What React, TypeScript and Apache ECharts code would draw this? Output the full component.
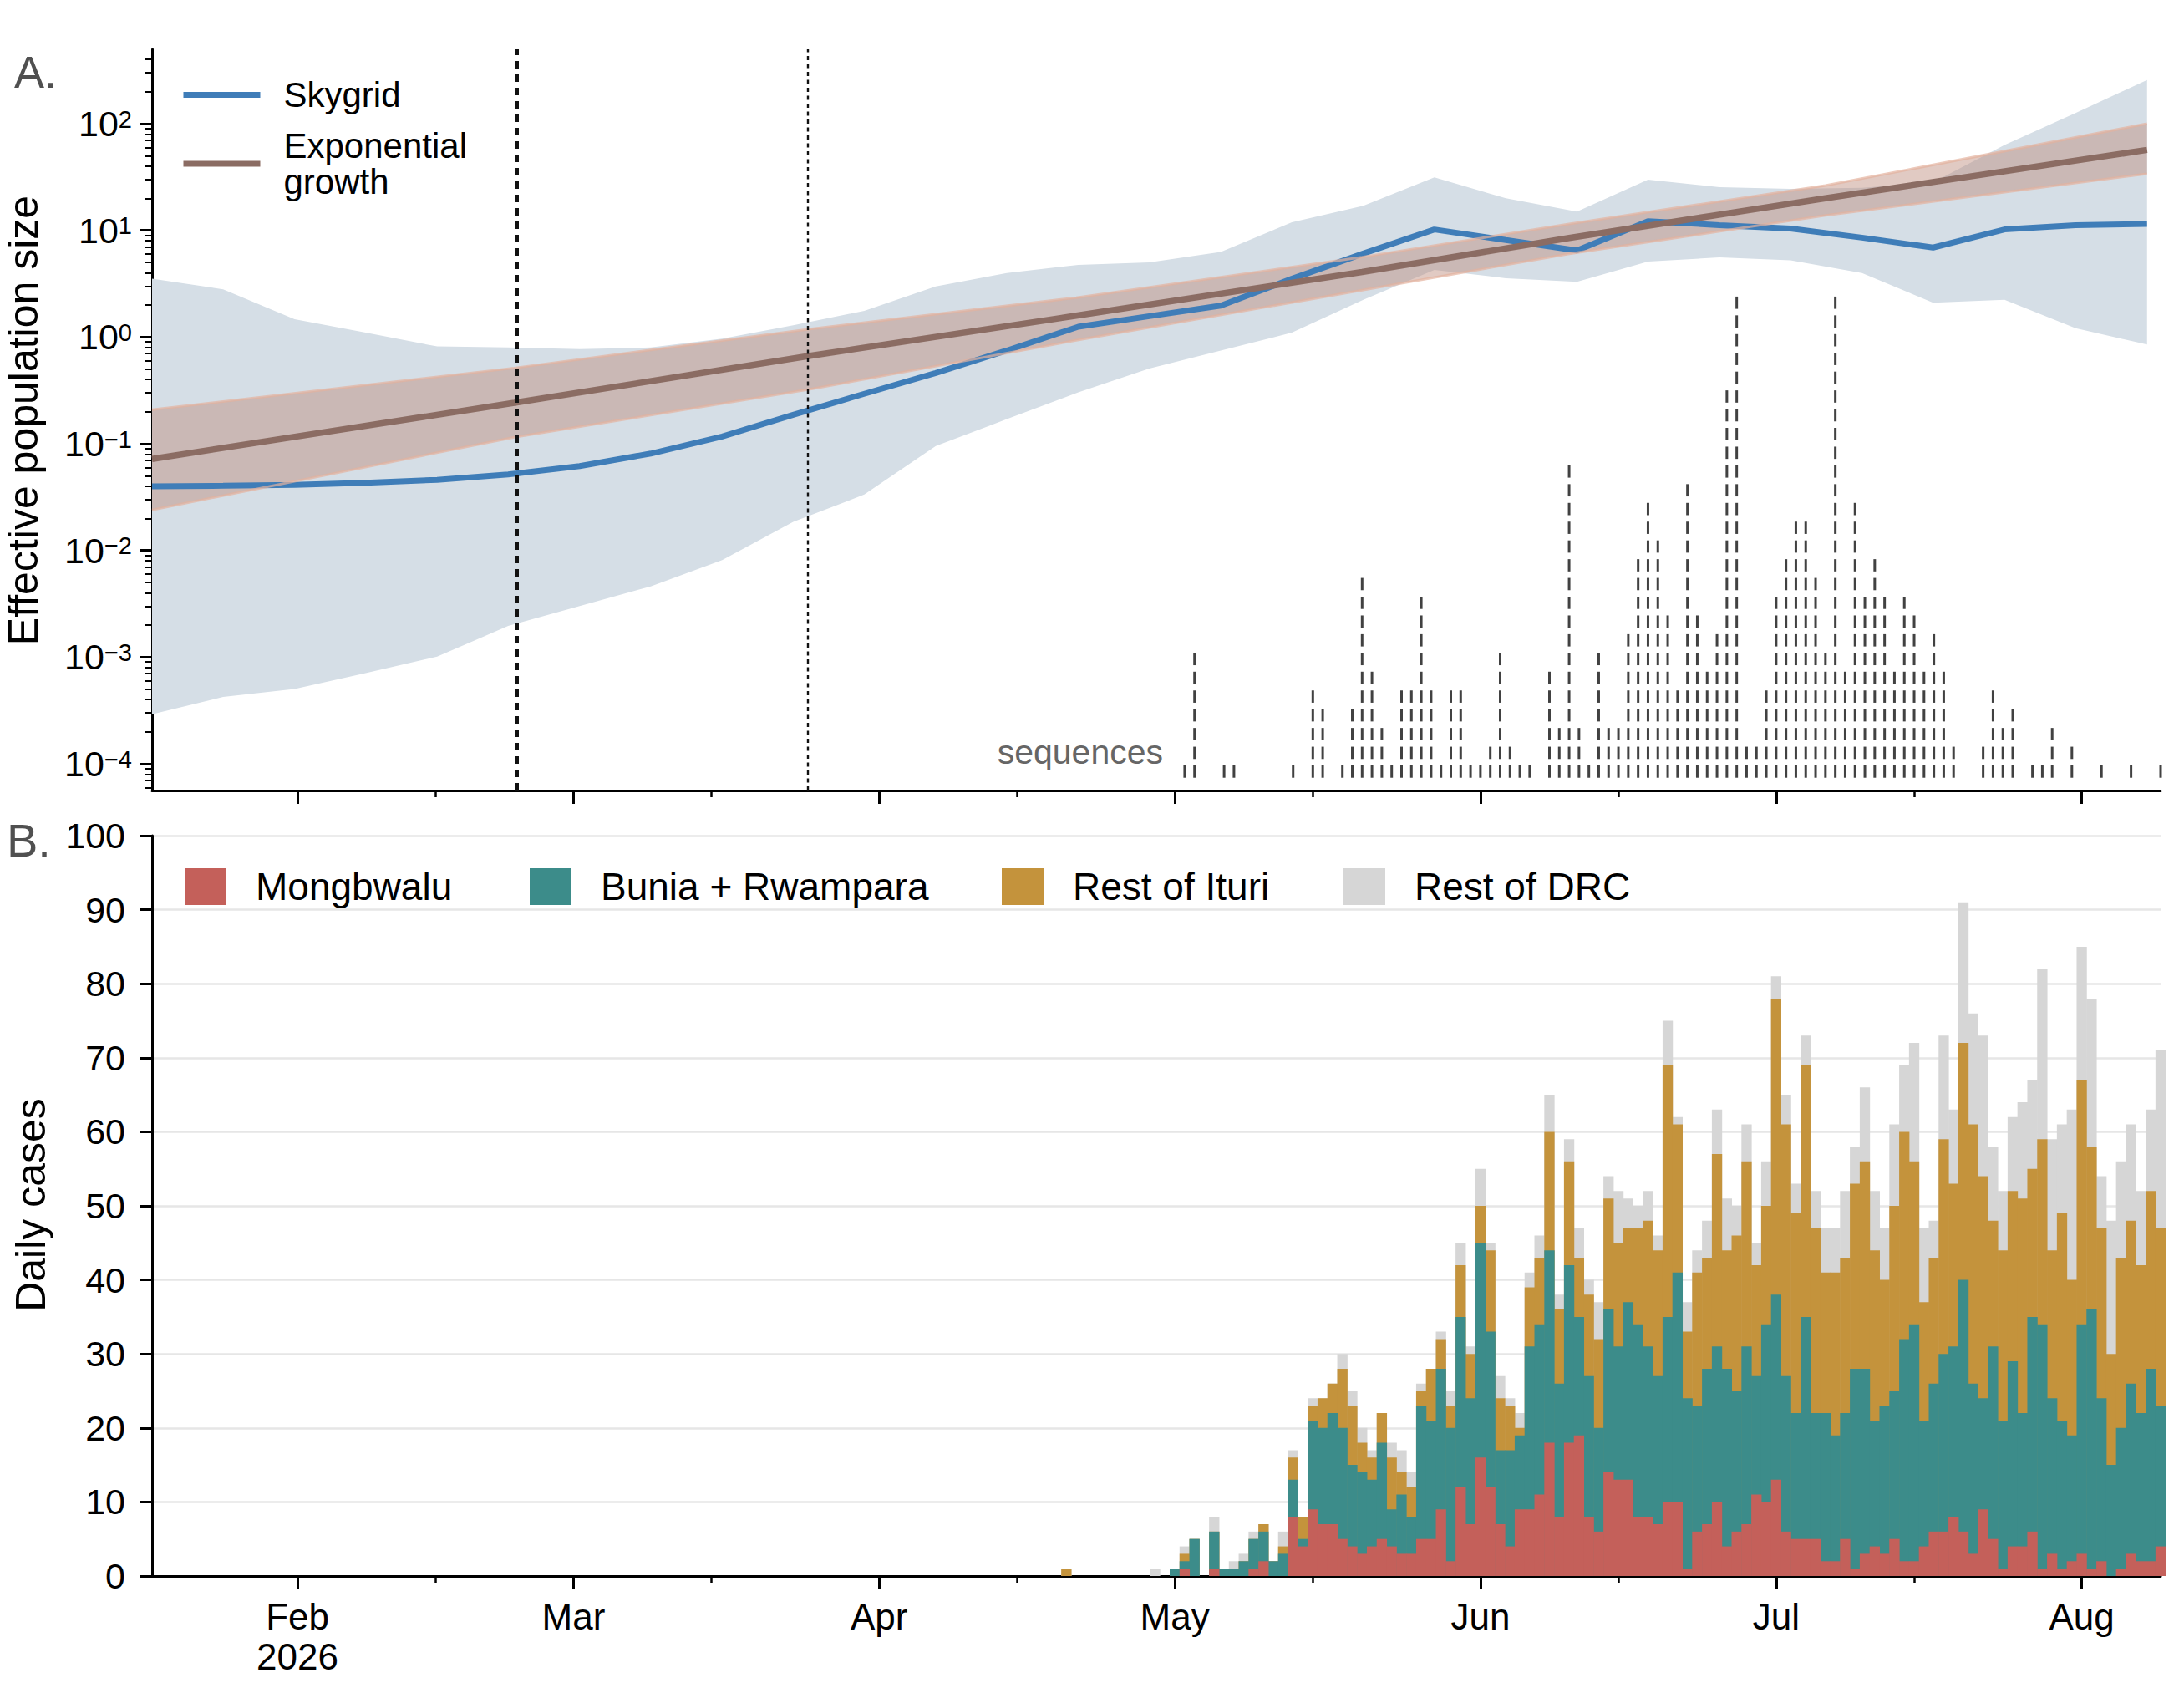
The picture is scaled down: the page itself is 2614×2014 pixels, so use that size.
import React, { useEffect, useRef } from 'react';
import * as echarts from 'echarts';

const FONT = '"Liberation Sans", Arial, Helvetica, sans-serif';

// ---------------- Panel A: effective population size ----------------
const skygridDates = [
  '2026-01-17 06:00', '2026-01-24 11:00', '2026-01-31 17:00', '2026-02-07 22:00', '2026-02-15 04:00',
  '2026-02-22 09:00', '2026-03-01 15:00', '2026-03-08 20:00', '2026-03-16 02:00', '2026-03-23 07:00',
  '2026-03-30 12:00', '2026-04-06 18:00', '2026-04-13 23:00', '2026-04-21 05:00', '2026-04-28 10:00',
  '2026-05-05 16:00', '2026-05-12 21:00', '2026-05-20 03:00', '2026-05-27 08:00', '2026-06-03 14:00',
  '2026-06-10 19:00', '2026-06-18 00:00', '2026-06-25 06:00', '2026-07-02 11:00', '2026-07-09 17:00',
  '2026-07-16 22:00', '2026-07-24 04:00', '2026-07-31 09:00', '2026-08-07 15:00',
];
const skygridMedian = [
  0.0398, 0.0404, 0.0411, 0.0431, 0.0459, 0.0515, 0.0618, 0.0809, 0.117, 0.187,
  0.294, 0.461, 0.748, 1.25, 1.57, 1.97, 3.52, 6.07, 10.2, 8.11,
  6.47, 12.2, 11.2, 10.4, 8.55, 6.9, 10.2, 11.2, 11.5,
];
const skygridLower = [
  0.000291, 0.000424, 0.000502, 0.000708, 0.00101, 0.00196, 0.00301, 0.00461, 0.00813, 0.0185,
  0.0334, 0.0951, 0.17, 0.303, 0.508, 0.748, 1.1, 2.24, 4.26, 3.56,
  3.3, 5.11, 5.58, 5.24, 3.99, 2.1, 2.24, 1.21, 0.851,
];
const skygridUpper = [
  3.52, 2.8, 1.47, 1.1, 0.817, 0.798, 0.773, 0.798, 0.968, 1.29,
  1.76, 2.99, 3.99, 4.75, 5.0, 6.27, 11.9, 17.0, 31.4, 20.0,
  15.0, 29.9, 25.4, 24.5, 25.1, 28.2, 63.1, 126, 257,
];

const expDates = [
  '2026-01-17 06:00', '2026-02-23 00:00', '2026-03-25 00:00', '2026-04-21 00:00',
  '2026-05-20 00:00', '2026-06-10 00:00', '2026-07-06 00:00', '2026-08-07 15:00',
];
const expMedian = [0.0721, 0.242, 0.668, 1.585, 4.07, 8.5, 20.0, 56.8];
const expLower = [0.024, 0.115, 0.324, 0.933, 2.75, 6.03, 13.8, 33.9];
const expUpper = [0.209, 0.513, 1.19, 2.34, 5.62, 11.5, 26.3, 100];

const markerDates = ['2026-02-23 05:00', '2026-03-24 18:00'];

// sequences per day, starting 2026-05-02
const seqStart = '2026-05-02';
const seqCounts = [
  // May 2 - May 31
  1, 7, 0, 0, 1, 1, 0, 0, 0, 0, 0, 1, 0, 5, 4, 0, 1, 4, 11, 6, 3, 1, 5, 5, 10, 5, 1, 5, 5, 1,
  // June
  1, 2, 7, 2, 1, 1, 0, 6, 3, 17, 3, 1, 7, 3, 3, 8, 12, 15, 13, 9, 5, 16, 9, 6, 8, 21, 26, 2, 2, 5,
  // July
  10, 12, 14, 14, 11, 7, 26, 6, 15, 10, 12, 10, 6, 10, 9, 6, 8, 6, 2, 0, 0, 2, 5, 3, 4, 0, 1, 1, 3, 0, 2,
  // Aug 1 - 9
  0, 0, 1, 0, 0, 1, 0, 0, 1,
];

// ---------------- Panel B: daily cases, starting 2026-04-20 ----------------
const caseStart = '2026-04-20';
const mongbwalu = [
  0, 0, 0, 0, 0, 0, 0, 0, 0, 0, 0,
  0, 1, 0, 0, 1, 0, 0, 0, 1, 2, 0, 0, 8, 4, 9, 7, 7, 5, 4, 3, 4, 5, 4, 3, 3, 5, 5, 9, 2, 12, 7,
  16, 12, 7, 4, 9, 9, 11, 18, 8, 18, 19, 8, 6, 14, 13, 13, 8, 8, 7, 10, 10, 1, 6, 7, 10, 4, 6, 7, 11, 10,
  13, 6, 5, 5, 5, 2, 2, 5, 1, 3, 4, 3, 5, 2, 2, 4, 6, 6, 8, 6, 3, 9, 5, 1, 4, 4, 6, 1, 3, 1, 2,
  3, 1, 2, 0, 1, 3, 2, 2, 4,
];
const buniaRwampara = [
  0, 0, 0, 0, 0, 0, 0, 0, 0, 0, 0,
  1, 1, 5, 0, 5, 1, 1, 2, 4, 4, 2, 3, 5, 1, 12, 13, 15, 15, 11, 11, 9, 13, 5, 8, 5, 18, 16, 19, 18, 23, 17,
  29, 21, 10, 13, 10, 22, 23, 26, 18, 24, 16, 19, 14, 22, 18, 24, 26, 23, 20, 25, 31, 23, 17, 21, 21, 24, 19, 24, 16, 24,
  25, 21, 17, 30, 17, 20, 17, 17, 27, 25, 17, 20, 20, 30, 32, 17, 20, 24, 23, 34, 23, 15, 26, 20, 25, 18, 29, 33, 21, 20, 17,
  31, 35, 22, 15, 19, 23, 20, 26, 19,
];
const restOfIturi = [
  1, 0, 0, 0, 0, 0, 0, 0, 0, 0, 0,
  0, 1, 0, 0, 0, 0, 0, 0, 0, 1, 0, 1, 3, 3, 2, 4, 4, 8, 8, 4, 3, 4, 7, 3, 4, 2, 7, 4, 3, 7, 6,
  5, 11, 7, 6, 1, 8, 9, 16, 10, 14, 8, 11, 12, 15, 14, 10, 13, 17, 17, 34, 20, 9, 18, 15, 26, 16, 21, 25, 15, 16,
  40, 34, 27, 34, 25, 19, 22, 21, 25, 28, 23, 17, 25, 28, 22, 16, 17, 29, 22, 32, 35, 30, 17, 23, 23, 29, 20, 25, 20, 28, 21,
  33, 22, 23, 15, 23, 22, 20, 24, 24,
];
const restOfDRC = [
  0, 0, 0, 0, 0, 0, 0, 0, 0, 1, 0,
  0, 1, 0, 0, 2, 0, 1, 1, 1, 0, 0, 2, 1, 0, 1, 0, 0, 2, 2, 2, 1, 0, 2, 3, 2, 1, 0, 1, 2, 3, 1,
  5, 1, 3, 1, 2, 2, 3, 5, 2, 3, 4, 2, 5, 3, 7, 4, 3, 4, 2, 6, 1, 4, 3, 5, 6, 7, 4, 5, 3, 6,
  3, 4, 4, 4, 5, 6, 6, 9, 5, 10, 8, 7, 11, 9, 16, 10, 5, 14, 10, 19, 15, 19, 10, 8, 10, 13, 12, 23, 15, 12, 23,
  18, 20, 7, 18, 13, 13, 10, 11, 24,
];

// ---------------- Axis ticks ----------------
const monthTicks = ['2026-02-01', '2026-03-01', '2026-04-01', '2026-05-01', '2026-06-01', '2026-07-01', '2026-08-01'];
const midMonthTicks = ['2026-02-15', '2026-03-15', '2026-04-15', '2026-05-15', '2026-06-15', '2026-07-15'];
const decadeTicks = [-4, -3, -2, -1, 0, 1, 2];
const caseTicks = [0, 10, 20, 30, 40, 50, 60, 70, 80, 90, 100];
const xRange = ['2026-01-17 06:00', '2026-08-09 00:00'];
const neRange = [0.0000562, 498];

// ---------------- Styles / layout constants ----------------
const BLUE = '#3f7db8';
const BROWN = '#8b6c63';
const SKY_BAND = '#d5dee6';
const EXP_BAND = 'rgba(188,138,122,0.45)';
const EXP_EDGE = 'rgba(228,178,158,0.7)';
const C_MONG = '#c4605a';
const C_BUNIA = '#3c8c8a';
const C_ITURI = '#c4933c';
const C_DRC = '#d6d6d6';
const SEQ_BASE = -4.073; // log10 position of first dash
const SEQ_STEP = 0.1758; // log10 spacing of stacked dashes
const MONTHS = ['Jan', 'Feb', 'Mar', 'Apr', 'May', 'Jun', 'Jul', 'Aug', 'Sep', 'Oct', 'Nov', 'Dec'];

function ts(s: string): number {
  const [d, t] = s.split(' ');
  const [y, m, dd] = d.split('-').map(Number);
  let h = 0;
  let mi = 0;
  if (t) {
    const p = t.split(':').map(Number);
    h = p[0];
    mi = p[1];
  }
  return new Date(y, m - 1, dd, h, mi).getTime();
}
function addDays(s: string, n: number): number {
  const [y, m, dd] = s.split('-').map(Number);
  return new Date(y, m - 1, dd + n).getTime();
}
const L = Math.log10;

function buildOption() {
  const xMin = ts(xRange[0]);
  const xMax = ts(xRange[1]);
  const yMin = L(neRange[0]);
  const yMax = L(neRange[1]);
  const monthTs = monthTicks.map(ts);
  const midTs = midMonthTicks.map(ts);
  const minorLog: number[] = [];
  for (let k = -5; k <= 2; k++) {
    for (let m = 2; m <= 9; m++) {
      const v = k + L(m);
      if (v > yMin && v < yMax) minorLog.push(v);
    }
  }

  const skyT = skygridDates.map(ts);
  const expT = expDates.map(ts);

  const seqPts: number[][] = [];
  seqCounts.forEach((c, i) => {
    const t = addDays(seqStart, i);
    for (let j = 0; j < c; j++) seqPts.push([t, SEQ_BASE + j * SEQ_STEP]);
  });

  const caseT = mongbwalu.map((_, i) => addDays(caseStart, i));
  // cumulative tops of the stacked categories (drawn back to front)
  const cum1 = mongbwalu.slice();
  const cum2 = cum1.map((v, i) => v + buniaRwampara[i]);
  const cum3 = cum2.map((v, i) => v + restOfIturi[i]);
  const cum4 = cum3.map((v, i) => v + restOfDRC[i]);

  const axisLineStyle = { color: '#000', width: 3 };

  const xAxisBase = (gridIndex: number) => ({
    gridIndex,
    type: 'value',
    min: xMin,
    max: xMax,
    position: 'bottom',
    splitLine: { show: false },
    minorTick: { show: false },
  });

  const xAxis = [
    {
      ...xAxisBase(0),
      axisLine: { show: true, onZero: false, lineStyle: axisLineStyle },
      axisTick: { show: true, customValues: monthTs, length: 16, lineStyle: { color: '#000', width: 3 } },
      axisLabel: { show: false },
    },
    {
      ...xAxisBase(0),
      axisLine: { show: false, onZero: false },
      axisTick: { show: true, customValues: midTs, length: 8, lineStyle: { color: '#000', width: 2.5 } },
      axisLabel: { show: false },
    },
    {
      ...xAxisBase(1),
      axisLine: { show: true, onZero: false, lineStyle: axisLineStyle },
      axisTick: { show: true, customValues: monthTs, length: 16, lineStyle: { color: '#000', width: 3 } },
      axisLabel: {
        show: true,
        customValues: monthTs,
        margin: 24,
        fontSize: 44,
        lineHeight: 48,
        fontFamily: FONT,
        color: '#000',
        hideOverlap: false,
        formatter: (v: number) => {
          const d = new Date(v);
          const m = MONTHS[d.getMonth()];
          return d.getMonth() === 1 ? m + '\n' + d.getFullYear() : m;
        },
      },
    },
    {
      ...xAxisBase(1),
      axisLine: { show: false, onZero: false },
      axisTick: { show: true, customValues: midTs, length: 8, lineStyle: { color: '#000', width: 2.5 } },
      axisLabel: { show: false },
    },
  ];

  const yAxis = [
    {
      gridIndex: 0,
      type: 'value',
      position: 'left',
      min: yMin,
      max: yMax,
      axisLine: { show: true, onZero: false, lineStyle: axisLineStyle },
      axisTick: { show: true, customValues: decadeTicks, length: 15, lineStyle: { color: '#000', width: 3 } },
      axisLabel: {
        show: true,
        customValues: decadeTicks,
        margin: 24,
        formatter: (v: number) => {
          const e = Math.round(v);
          const s = e < 0 ? '\u2212' + -e : String(e);
          return '{b|10}{s|' + s + '}';
        },
        rich: {
          b: { fontSize: 43, fontFamily: FONT, color: '#000', lineHeight: 40 },
          s: { fontSize: 29, fontFamily: FONT, color: '#000', lineHeight: 28, verticalAlign: 'top' },
        },
      },
      splitLine: { show: false },
    },
    {
      gridIndex: 0,
      type: 'value',
      position: 'left',
      min: yMin,
      max: yMax,
      axisLine: { show: false, onZero: false },
      axisTick: { show: true, customValues: minorLog, length: 8, lineStyle: { color: '#000', width: 2 } },
      axisLabel: { show: false },
      splitLine: { show: false },
    },
    {
      gridIndex: 1,
      type: 'value',
      position: 'left',
      min: 0,
      max: 100,
      interval: 10,
      axisLine: { show: true, onZero: false, lineStyle: axisLineStyle },
      axisTick: { show: true, length: 15, lineStyle: { color: '#000', width: 3 } },
      axisLabel: { show: true, customValues: caseTicks, margin: 32, fontSize: 43, fontFamily: FONT, color: '#000' },
      splitLine: { show: true, lineStyle: { color: '#e6e6e6', width: 2.5 } },
    },
  ];

  const topLine = (extra: any) => ({
    type: 'line',
    xAxisIndex: 0,
    yAxisIndex: 0,
    symbol: 'none',
    silent: true,
    animation: false,
    ...extra,
  });

  const band = (name: string, times: number[], lo: number[], hi: number[], fill: string) => ({
    name,
    type: 'custom',
    xAxisIndex: 0,
    yAxisIndex: 0,
    silent: true,
    data: [[times[Math.floor(times.length / 2)], L(lo[Math.floor(times.length / 2)])]],
    renderItem: (_params: any, api: any) => {
      const up = times.map((t, i) => api.coord([t, L(hi[i])]));
      const dn = times.map((t, i) => api.coord([t, L(lo[i])])).reverse();
      return { type: 'polygon', shape: { points: up.concat(dn) }, style: { fill } };
    },
  });

  const barSeries = (name: string, arr: number[], color: string) => ({
    name,
    type: 'bar',
    xAxisIndex: 2,
    yAxisIndex: 2,
    barWidth: 12.3,
    barGap: '-100%',
    silent: true,
    itemStyle: { color },
    data: caseT.map((t, i) => [t, arr[i]]),
  });

  const series: any[] = [
    band('skyBand', skyT, skygridLower, skygridUpper, SKY_BAND),
    topLine({
      name: 'Skygrid',
      lineStyle: { color: BLUE, width: 7 },
      itemStyle: { color: BLUE },
      data: skyT.map((t, i) => [t, L(skygridMedian[i])]),
    }),
    band('expBand', expT, expLower, expUpper, EXP_BAND),
    topLine({
      name: 'expLower',
      lineStyle: { color: EXP_EDGE, width: 3 },
      data: expT.map((t, i) => [t, L(expLower[i])]),
    }),
    topLine({
      name: 'expUpper',
      lineStyle: { color: EXP_EDGE, width: 3 },
      data: expT.map((t, i) => [t, L(expUpper[i])]),
    }),
    topLine({
      name: 'Exponential\ngrowth',
      lineStyle: { color: BROWN, width: 7.5 },
      itemStyle: { color: BROWN },
      data: expT.map((t, i) => [t, L(expMedian[i])]),
    }),
    {
      name: 'sequences',
      type: 'scatter',
      xAxisIndex: 0,
      yAxisIndex: 0,
      symbol: 'rect',
      symbolSize: [3, 14.7],
      silent: true,
      itemStyle: { color: '#111' },
      z: 5,
      data: seqPts,
      markLine: {
        silent: true,
        symbol: ['none', 'none'],
        label: { show: false },
        animation: false,
        data: [
          { xAxis: ts(markerDates[0]), lineStyle: { color: '#111', width: 5, type: [9, 7] } },
          { xAxis: ts(markerDates[1]), lineStyle: { color: '#111', width: 2.4, type: [5, 4.5] } },
        ],
      },
    },
    barSeries('Rest of DRC', cum4, C_DRC),
    barSeries('Rest of Ituri', cum3, C_ITURI),
    barSeries('Bunia + Rwampara', cum2, C_BUNIA),
    barSeries('Mongbwalu', cum1, C_MONG),
  ];

  const lineLegend = (name: string, top: number) => ({
    data: [name],
    left: 216,
    top,
    padding: 0,
    itemWidth: 92,
    itemHeight: 14,
    selectedMode: false,
    itemStyle: { opacity: 0 },
    lineStyle: { width: 7 },
    textStyle: { fontSize: 42, fontFamily: FONT, color: '#000', lineHeight: 43, padding: [0, 0, 0, 23] },
  });
  const boxLegend = (name: string, left: number) => ({
    data: [name],
    left,
    top: 1038,
    padding: 0,
    icon: 'rect',
    itemWidth: 50,
    itemHeight: 44,
    selectedMode: false,
    textStyle: { fontSize: 46, fontFamily: FONT, color: '#000', lineHeight: 44, padding: [0, 0, 0, 30] },
  });

  const text = (t: string, x: number, y: number, size: number, fill: string, align = 'left', rotation = 0) => ({
    type: 'text',
    x,
    y,
    rotation,
    silent: true,
    style: {
      text: t,
      fontSize: size,
      fontFamily: FONT,
      fill,
      textAlign: align,
      align,
      textVerticalAlign: 'middle',
      verticalAlign: 'middle',
    },
  });

  return {
    animation: false,
    backgroundColor: '#fff',
    textStyle: { fontFamily: FONT },
    grid: [
      { left: 182, top: 59, width: 2404, height: 887, containLabel: false },
      { left: 182, top: 1000, width: 2404, height: 886, containLabel: false },
    ],
    xAxis,
    yAxis,
    legend: [
      lineLegend('Skygrid', 92),
      lineLegend('Exponential\ngrowth', 153),
      boxLegend('Mongbwalu', 221),
      boxLegend('Bunia + Rwampara', 634),
      boxLegend('Rest of Ituri', 1199),
      boxLegend('Rest of DRC', 1608),
    ],
    tooltip: { show: false },
    graphic: [
      text('A.', 17, 86, 54, '#505050'),
      text('B.', 8, 1005, 56, '#505050'),
      text('sequences', 1392, 900, 41, '#666666', 'right'),
      text('Effective population size', 28, 503, 50, '#000', 'center', Math.PI / 2),
      text('Daily cases', 37, 1442, 50, '#000', 'center', Math.PI / 2),
    ],
    series,
  };
}

export default function App() {
  const ref = useRef<HTMLDivElement>(null);
  useEffect(() => {
    if (!ref.current) return;
    const chart = echarts.init(ref.current, undefined, { renderer: 'svg' });
    chart.setOption(buildOption() as any);
    return () => chart.dispose();
  }, []);
  return (
    <div
      ref={ref}
      style={{ position: 'absolute', left: 0, top: 0, width: 2614, height: 2014, background: '#fff' }}
    />
  );
}
